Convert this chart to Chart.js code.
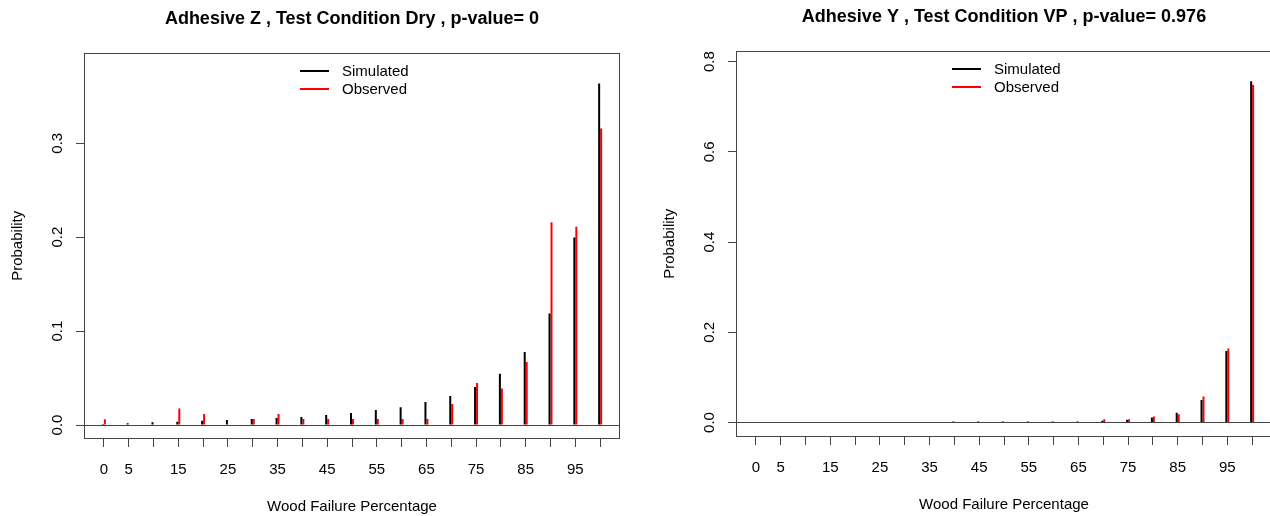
<!DOCTYPE html>
<html><head><meta charset="utf-8">
<script src="https://cdn.jsdelivr.net/npm/chart.js@4"></script>
<style>
html,body{margin:0;padding:0;background:#fff;overflow:hidden;width:1270px;height:516px;}
.wrap{position:absolute;height:516px;width:635px;}
</style></head><body>
<div class="wrap" style="left:0;top:0"><canvas id="c1"></canvas></div>
<div class="wrap" style="left:652px;top:-2px"><canvas id="c2"></canvas></div>
<script>
// ---- data ----
const woodFailure = [0,5,10,15,20,25,30,35,40,45,50,55,60,65,70,75,80,85,90,95,100];
const xTickLabels = ['0','5','','15','','25','','35','','45','','55','','65','','75','','85','','95',''];

const titleZ = 'Adhesive Z , Test Condition Dry , p-value= 0';
const simulatedZ = [0.001,0.002,0.003,0.0035,0.0046,0.0053,0.0064,0.0074,0.0085,0.0106,0.0128,0.016,0.019,0.0245,0.0309,0.0404,0.0546,0.0777,0.1188,0.1996,0.3635];
const observedZ  = [0.006,0,0,0.0177,0.0117,0,0.0064,0.0117,0.0064,0.0064,0.0064,0.0064,0.0064,0.0064,0.0223,0.0447,0.039,0.067,0.216,0.211,0.3156];
const yTicksZ = [0,0.1,0.2,0.3];
const yTickLabelsZ = ['0.0','0.1','0.2','0.3'];

const titleY = 'Adhesive Y , Test Condition VP , p-value= 0.976';
const simulatedY = [0,0,0,0,0,0,0,0,0.002,0.002,0.002,0.002,0.002,0.002,0.004,0.006,0.011,0.0214,0.050,0.1588,0.7566];
const observedY  = [0,0,0,0,0,0,0,0,0,0,0,0,0,0,0.0074,0.0074,0.0133,0.0185,0.0576,0.164,0.7486];
const yTicksY = [0,0.2,0.4,0.6,0.8];
const yTickLabelsY = ['0.0','0.2','0.4','0.6','0.8'];

const seriesNames = ['Simulated','Observed'];
const seriesColors = ['#000000','#ff0000'];
const xLabel = 'Wood Failure Percentage';
const yLabel = 'Probability';

// ---- plugins ----
const FONT = "'Liberation Sans', Arial, sans-serif";
Chart.defaults.font.family = FONT;
Chart.defaults.font.size = 15;
Chart.defaults.color = '#000';

const boxPlugin = {
  id: 'plotBox',
  afterDraw(chart) {
    const a = chart.chartArea, ctx = chart.ctx;
    ctx.save();
    ctx.strokeStyle = '#444'; ctx.lineWidth = 1;
    const l = Math.round(a.left)+0.5, t = Math.round(a.top)+0.5;
    const r = Math.round(a.right)-0.5, b = Math.round(a.bottom)-0.5;
    ctx.strokeRect(l, t, r-l, b-t);
    ctx.restore();
  }
};
const legendPlugin = {
  id: 'insideLegend',
  afterDraw(chart) {
    const a = chart.chartArea, ctx = chart.ctx;
    const cx = (a.left + a.right) / 2;
    ctx.save();
    ctx.font = '15px ' + FONT;
    ctx.textBaseline = 'middle';
    ctx.textAlign = 'left';
    chart.data.datasets.forEach((ds, i) => {
      const y = Math.round(a.top + 18 + i * 18.3);
      ctx.strokeStyle = ds.backgroundColor; ctx.lineWidth = 2;
      ctx.beginPath(); ctx.moveTo(cx - 52, y); ctx.lineTo(cx - 23, y); ctx.stroke();
      ctx.fillStyle = '#000';
      ctx.fillText(ds.label, cx - 10, y + 1);
    });
    ctx.restore();
  }
};

function makeChart(id, title, sim, obs, yMin, yMax, yTicks, yTickLabels) {
  const sets = [sim, obs].map((vals, k) => ({
    label: seriesNames[k],
    data: woodFailure.map((x, i) => ({x: x, y: vals[i]})),
    backgroundColor: seriesColors[k],
    borderWidth: 0,
    inflateAmount: 0,
    barThickness: 2
  }));
  return new Chart(document.getElementById(id), {
    type: 'bar',
    data: { datasets: sets },
    plugins: [boxPlugin, legendPlugin],
    options: {
      responsive: true, maintainAspectRatio: false, animation: false,
      layout: { padding: { left: 0, right: 15, top: 0, bottom: 0 } },
      plugins: {
        legend: { display: false },
        tooltip: { enabled: false },
        title: {
          display: true, text: title, fullSize: false,
          font: { size: 18, weight: 'bold', family: FONT }, color: '#000',
          padding: { top: 8, bottom: 23 }
        }
      },
      scales: {
        x: {
          type: 'linear', min: -4, max: 104, offset: false,
          afterBuildTicks: s => { s.ticks = woodFailure.map(v => ({value: v})); },
          afterFit: s => { s.height = 77; },
          grid: { display: true, drawOnChartArea: false, drawTicks: true, tickLength: 8, tickColor: '#444', color: '#444', offset: false },
          border: { display: false },
          ticks: { autoSkip: false, maxRotation: 0, minRotation: 0, padding: 14,
                   callback: (v, i) => xTickLabels[i] },
          title: { display: true, text: xLabel, font: { size: 15 }, padding: { top: 4, bottom: 0 } }
        },
        y: {
          type: 'linear', min: yMin, max: yMax,
          afterBuildTicks: s => { s.ticks = yTicks.map(v => ({value: v})); },
          afterFit: s => { s.width = 84; },
          grid: { drawOnChartArea: true, drawTicks: true, tickLength: 8, tickColor: '#444',
                  color: c => (c.tick && c.tick.value === 0) ? '#444' : 'rgba(0,0,0,0)' },
          border: { display: false },
          ticks: { minRotation: 90, maxRotation: 90, crossAlign: 'center', padding: 8,
                   callback: (v, i) => yTickLabels[i] },
          title: { display: true, text: yLabel, font: { size: 15 }, padding: { top: 9, bottom: 4 } }
        }
      }
    }
  });
}

makeChart('c1', titleZ, simulatedZ, observedZ, -0.0149, 0.3965, yTicksZ, yTickLabelsZ);
makeChart('c2', titleY, simulatedY, observedY, -0.0321, 0.8244, yTicksY, yTickLabelsY);
</script>
</body></html>
